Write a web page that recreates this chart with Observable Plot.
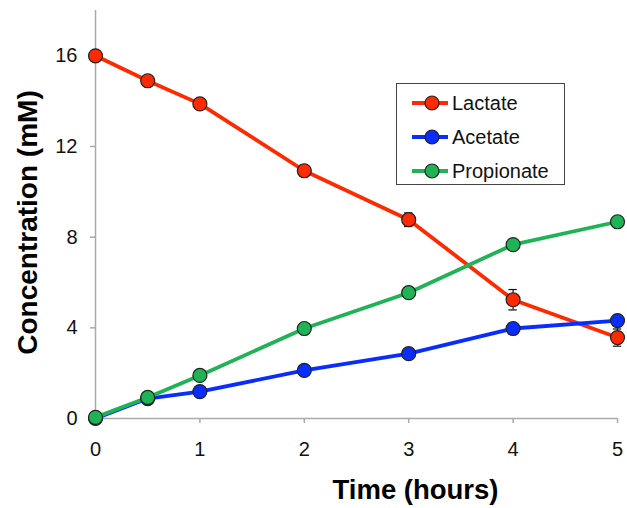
<!DOCTYPE html>
<html>
<head>
<meta charset="utf-8">
<script src="https://cdn.jsdelivr.net/npm/d3@7"></script>
<script src="https://cdn.jsdelivr.net/npm/@observablehq/plot@0.6"></script>
<style>
  html, body { margin: 0; padding: 0; background: #fff; }
  #wrap { position: relative; width: 627px; height: 508px; font-family: "Liberation Sans", Arial, sans-serif; }
  #legend { position: absolute; left: 396px; top: 83px; width: 169px; height: 102px; border: 1.5px solid #444; background: #fff; box-sizing: border-box; padding: 2px 0 0 14px; }
  .row { display: flex; align-items: center; height: 34px; font-size: 20px; color: #111; }
  .row svg { margin-right: 3px; }
</style>
</head>
<body>
<div id="wrap"></div>
<script>
const times = [0, 0.5, 1, 2, 3, 4, 5];
const seriesNames = ["Lactate", "Acetate", "Propionate"];
const lactate    = [16.0, 14.9, 13.88, 10.93, 8.77, 5.24, 3.57];
const lactateErr = [0.1, 0.1, 0.1, 0.25, 0.3, 0.45, 0.38];
const acetate    = [0.0, 0.88, 1.19, 2.12, 2.86, 3.97, 4.32];
const propionate = [0.05, 0.93, 1.9, 3.97, 5.55, 7.67, 8.68];
const colors = ["#ff2a00", "#0a2dff", "#1fb356"];
const xTicks = [0, 1, 2, 3, 4, 5];
const yTicks = [0, 4, 8, 12, 16];

const values = [lactate, acetate, propionate];
const data = [];
seriesNames.forEach((s, i) => values[i].forEach((v, j) => data.push({series: s, t: times[j], v})));
const errData = times.map((t, j) => ({t, lo: lactate[j] - lactateErr[j], hi: lactate[j] + lactateErr[j]}));
const capW = 0.04;

const font = "Liberation Sans, Arial, sans-serif";
const chart = Plot.plot({
  width: 627,
  height: 508,
  marginLeft: 95,
  marginRight: 10,
  marginTop: 10,
  marginBottom: 90,
  style: {fontFamily: font, background: "#fff"},
  x: {domain: [0, 5]},
  y: {domain: [0, 18]},
  color: {domain: seriesNames, range: colors},
  marks: [
    Plot.ruleX([0], {stroke: "#aaa", strokeWidth: 1.5}),
    Plot.ruleY([0], {stroke: "#aaa", strokeWidth: 1.5}),
    Plot.axisX({ticks: xTicks, tickSize: 5, stroke: "#aaa", strokeWidth: 1.5, label: null, tickFormat: () => ""}),
    Plot.axisY({ticks: yTicks, tickSize: 5, stroke: "#aaa", strokeWidth: 1.5, label: null, tickFormat: () => ""}),
    Plot.text(xTicks, {x: d => d, text: d => String(d), frameAnchor: "bottom", lineAnchor: "middle", dy: 31, fontSize: 20, fill: "#111"}),
    Plot.text(yTicks, {y: d => d, text: d => String(d), frameAnchor: "left", textAnchor: "end", lineAnchor: "middle", dx: -18, fontSize: 20, fill: "#111"}),
    Plot.text(["Concentration (mM)"], {frameAnchor: "left", textAnchor: "middle", dx: -67, dy: 8, rotate: -90, fontSize: 28, fontWeight: "bold", fill: "#000"}),
    Plot.text(["Time (hours)"], {frameAnchor: "bottom", textAnchor: "middle", lineAnchor: "middle", dx: 59, dy: 72, fontSize: 27.5, fontWeight: "bold", fill: "#000"}),
    Plot.line(data, {x: "t", y: "v", stroke: "series", z: "series", strokeWidth: 3.8}),
    Plot.ruleX(errData, {x: "t", y1: "lo", y2: "hi", stroke: "#111", strokeWidth: 1.2}),
    Plot.ruleY(errData, {y: "lo", x1: d => d.t - capW, x2: d => d.t + capW, stroke: "#111", strokeWidth: 1.2}),
    Plot.ruleY(errData, {y: "hi", x1: d => d.t - capW, x2: d => d.t + capW, stroke: "#111", strokeWidth: 1.2}),
    Plot.dot(data, {x: "t", y: "v", fill: "series", r: 7, stroke: "#222", strokeWidth: 1.2})
  ]
});
const wrap = document.getElementById("wrap");
wrap.appendChild(chart);

const legend = document.createElement("div");
legend.id = "legend";
seriesNames.forEach((s, i) => {
  const row = document.createElement("div");
  row.className = "row";
  row.innerHTML = `<svg width="38" height="16"><line x1="1" y1="8" x2="37" y2="8" stroke="${colors[i]}" stroke-width="3.8"/><circle cx="21" cy="8" r="7" fill="${colors[i]}" stroke="#222" stroke-width="1.2"/></svg><span>${s}</span>`;
  legend.appendChild(row);
});
wrap.appendChild(legend);
</script>
</body>
</html>
